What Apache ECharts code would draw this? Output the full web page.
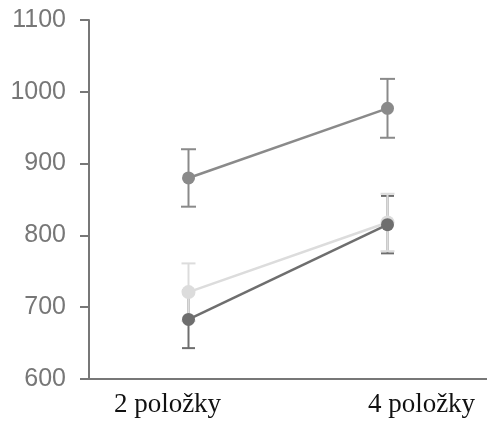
<!DOCTYPE html>
<html><head><meta charset="utf-8">
<script src="https://cdn.jsdelivr.net/npm/echarts@6/dist/echarts.min.js"></script>
<style>html,body{margin:0;padding:0;background:#fff}#c{width:487px;height:423px}</style>
</head><body><div id="c"></div>
<script>
const categories = ['2 položky', '4 položky'];
const yTicks = [600, 700, 800, 900, 1000, 1100];
const midValues = [880, 977];
const midErr = [40, 41];
const lightValues = [721, 818];
const lightErr = [40, 40];
const darkValues = [683, 815];
const darkErr = [40, 40];

const chart = echarts.init(document.getElementById('c'), null, {renderer: 'canvas'});

function errSeries(values, errs, color, z, w) {
  return {
    type: 'custom', z: z,
    data: values.map((v, i) => [i, v - errs[i], v + errs[i]]),
    renderItem: function (params, api) {
      const lo = api.coord([api.value(0), api.value(1)]);
      const hi = api.coord([api.value(0), api.value(2)]);
      const st = {stroke: color, lineWidth: 2};
      return {type: 'group', children: [
        {type: 'line', shape: {x1: lo[0], y1: lo[1], x2: hi[0], y2: hi[1]}, style: st},
        {type: 'line', shape: {x1: lo[0] - w, y1: lo[1], x2: lo[0] + w, y2: lo[1]}, style: st},
        {type: 'line', shape: {x1: hi[0] - w, y1: hi[1], x2: hi[0] + w, y2: hi[1]}, style: st}
      ]};
    }
  };
}
function lineSeries(values, color, z, size) {
  return {
    type: 'line', z: z, data: values, symbol: 'circle', symbolSize: size,
    lineStyle: {color: color, width: 2.5}, itemStyle: {color: color},
    emphasis: {disabled: true}
  };
}

const serifLabel = {fontFamily: 'Liberation Serif', fontSize: 27, color: '#111'};

chart.setOption({
  animation: false,
  grid: {left: 89, right: 0, top: 20, bottom: 44},
  xAxis: {
    type: 'category', data: categories, boundaryGap: true,
    axisLine: {lineStyle: {color: '#777', width: 2}},
    axisTick: {show: false},
    axisLabel: {
      margin: 12, fontFamily: 'Liberation Serif', fontSize: 27, color: '#111',
      formatter: function (v, i) { return i === 0 ? '{a|' + v + '}' : '{b|' + v + '}'; },
      rich: {
        a: Object.assign({padding: [0, 42, 0, 0]}, serifLabel),
        b: Object.assign({padding: [0, 0, 0, 68]}, serifLabel)
      }
    }
  },
  yAxis: {
    type: 'value', min: yTicks[0], max: yTicks[yTicks.length - 1], interval: 100,
    axisLine: {show: true, lineStyle: {color: '#777', width: 2}},
    axisTick: {show: true, length: 9, lineStyle: {color: '#777', width: 2}},
    splitLine: {show: false},
    axisLabel: {margin: 23, fontFamily: 'Liberation Sans', fontSize: 25, color: '#777',
      formatter: function (v) { return String(v); }}
  },
  series: [
    errSeries(darkValues, darkErr, '#6e6e6e', 1, 6.5),
    errSeries(lightValues, lightErr, '#dcdcdc', 2, 7),
    lineSeries(lightValues, '#dcdcdc', 3, 14),
    lineSeries(darkValues, '#6e6e6e', 4, 13),
    errSeries(midValues, midErr, '#8a8a8a', 5, 7.5),
    lineSeries(midValues, '#8a8a8a', 6, 13)
  ]
});
</script></body></html>
